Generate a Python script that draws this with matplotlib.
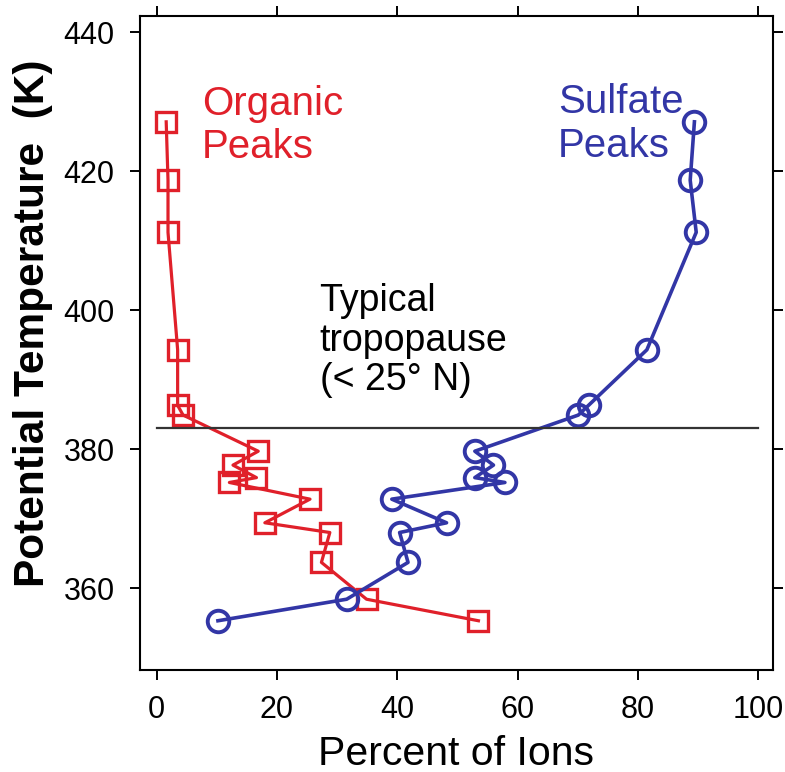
import matplotlib
matplotlib.use('Agg')
import matplotlib.pyplot as plt

plt.rcParams['font.family'] = ['Liberation Sans', 'DejaVu Sans']

# potential temperature levels (K), shared by both series
temp = [427.1, 418.7, 411.2, 394.3, 386.3, 384.9, 379.7, 377.7, 375.9, 375.2,
        372.8, 369.4, 368.0, 363.7, 358.4, 355.3]
# percent of ions
organic = [1.6, 1.9, 1.9, 3.5, 3.5, 4.4, 16.9, 12.7, 16.6, 12.1,
           25.5, 18.0, 28.8, 27.4, 34.9, 53.5]
sulfate = [89.4, 88.7, 89.7, 81.5, 71.8, 70.1, 52.9, 56.0, 52.9, 57.9,
           39.1, 48.2, 40.4, 41.8, 31.6, 10.2]
tropopause = 383.1

red = '#e0202a'
blue = '#3236a6'

fig = plt.figure(figsize=(7.85, 7.72), dpi=100)
ax = fig.add_axes([0.178, 0.132, 0.807, 0.847])

ax.plot(organic, temp, color=red, lw=2.3, marker='s', ms=15, mfc='none',
        mec=red, mew=2.4)
ax.plot(sulfate, temp, color=blue, lw=2.6, marker='o', ms=15.5, mfc='none',
        mec=blue, mew=2.8)
ax.plot([0, 100], [tropopause, tropopause], color='#333333', lw=1.6)

# multi-line texts: y is the baseline of the last line
ax.text(7.5, 421.9, 'Organic\nPeaks', color=red, fontsize=29, va='baseline',
        ha='left', linespacing=1.18)
ax.text(66.7, 422.1, 'Sulfate\nPeaks', color=blue, fontsize=29, va='baseline',
        ha='left', linespacing=1.18)
ax.text(27.1, 388.5, 'Typical\ntropopause\n(< 25° N)', color='black', fontsize=27,
        va='baseline', ha='left', linespacing=1.12)

ax.set_xlim(-2.8, 102.5)
ax.set_ylim(348.2, 442.3)
ax.set_xticks([0, 20, 40, 60, 80, 100])
ax.set_yticks([360, 380, 400, 420, 440])
ax.tick_params(direction='out', length=7, width=1.4, labelsize=22, pad=11,
               top=True, right=True)
for s in ax.spines.values():
    s.set_linewidth(1.5)

ax.set_xlabel('Percent of Ions', fontsize=29.5, labelpad=7)
ax.set_ylabel('Potential Temperature  (K)', fontsize=30.5, fontweight='bold')
ax.yaxis.set_label_coords(-0.137, 0.53)

fig.savefig('out.png', dpi=100)
